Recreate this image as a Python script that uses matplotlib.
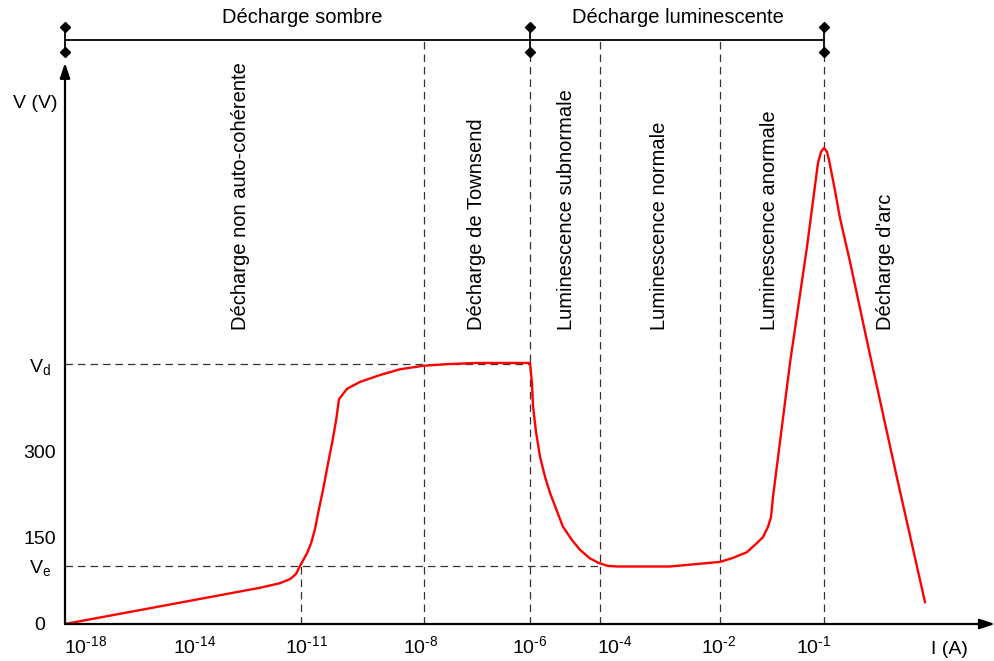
#importing external libraries
import numpy as np
import matplotlib.pyplot as plt

plt.rcParams['font.family'] = ['Liberation Sans', 'DejaVu Sans']
plt.rcParams['mathtext.fontset'] = 'custom'
plt.rcParams['mathtext.rm'] = 'Liberation Sans'
plt.rcParams['mathtext.it'] = 'Liberation Sans'

# schematic x position (arbitrary units along the log(I) axis) and voltage (V)
curve_x = [0, 195, 215, 225, 231, 235, 242, 246, 250, 253, 258, 263, 267, 271, 274, 282,
           295, 315, 335, 358, 382, 412, 448, 465, 467, 468, 471, 475, 480, 485, 492,
           498, 507, 515, 525, 534, 543, 552, 605, 655, 668, 682, 692, 698, 703, 706,
           708, 725, 742, 753, 756, 759, 762, 764, 769, 775, 785, 805, 832, 860]
curve_v = [0, 63, 71, 78, 87, 101, 123, 140, 165, 192, 233, 279, 314, 353, 391, 409,
           421, 433, 443, 449, 452, 454, 454, 454, 419, 379, 334, 291, 256, 228, 196,
           169, 146, 129, 114, 106, 101, 100, 100, 108, 115, 125, 141, 151, 169, 186,
           221, 454, 656, 802, 821, 828, 821, 807, 763, 706, 630, 468, 254, 38]

Ve = 101
Vd = 452

xtick_pos = [21, 130, 241, 356, 465, 550, 654, 749]
xtick_lab = ['-18', '-14', '-11', '-8', '-6', '-4', '-2', '-1']

ytick_pos = [0, Ve, 150, 300, Vd]
ytick_lab = ['0', r'$\mathregular{V_e}$', '150', '300', r'$\mathregular{V_d}$']

# region boundaries (dashed lines)
bounds = [359, 465, 535, 655, 759]
bound_top = [1016, 990, 1016, 1016, 990]
x_11 = 236

# rotated region names
regions = ['Décharge non auto-cohérente', 'Décharge de Townsend',
           'Luminescence subnormale', 'Luminescence normale',
           'Luminescence anormale', "Décharge d'arc"]
regions_x = [176, 412, 501, 595, 705, 821]

# top brackets
groups = ['Décharge sombre', 'Décharge luminescente']
groups_x = [237, 613]
bracket_x = [0, 465, 759]

fig = plt.figure(figsize=(9.95, 6.61), dpi=100)
ax = fig.add_axes([65/995, 37/661, 930/995, 624/661])
ax.set_xlim(0, 930)
ax.set_ylim(0, 624/0.575)
for s in ax.spines.values():
    s.set_visible(False)

# dashed guide lines
dash = dict(color='#333333', lw=0.9, ls=(0, (6, 4)), zorder=1)
ax.plot([0, 465], [Vd, Vd], **dash)
ax.plot([0, 535], [Ve, Ve], **dash)
ax.plot([x_11, x_11], [0, Ve], **dash)
for b, t in zip(bounds, bound_top):
    ax.plot([b, b], [0, t], **dash)

# the curve
ax.plot(curve_x, curve_v, color='red', lw=1.7, zorder=3, solid_joinstyle='round')

# axes arrows
arrow = dict(arrowstyle='-|>,head_length=0.9,head_width=0.3', color='black', lw=1.6,
             shrinkA=0, shrinkB=0)
ax.annotate('', xy=(930, 0), xytext=(0, 0), annotation_clip=False, arrowprops=arrow)
ax.annotate('', xy=(0, 976), xytext=(0, 0), annotation_clip=False, arrowprops=arrow)

# top bracket
ax.plot([0, 759], [1016, 1016], color='black', lw=1.3, clip_on=False)
for bx in bracket_x:
    ax.plot([bx, bx], [995, 1038], color='black', lw=1.3, clip_on=False)
    ax.plot([bx, bx], [995, 1038], ls='none', marker='D', ms=5, color='black', clip_on=False)
for g, gx in zip(groups, groups_x):
    ax.text(gx, 1054, g, ha='center', va='center', fontsize=14.5)

# region names
for r, rx in zip(regions, regions_x):
    ax.text(rx, 511, r, rotation=90, ha='center', va='bottom', fontsize=14.5)

# ticks
ax.set_xticks(xtick_pos)
ax.set_xticklabels([r'$\mathregular{10^{%s}}$' % l.replace('-', '\u2010') for l in xtick_lab],
                   fontsize=14)
ax.set_yticks(ytick_pos)
ax.set_yticklabels(ytick_lab, fontsize=14, ha='center')
ax.tick_params(axis='x', length=0, pad=8)
ax.tick_params(axis='y', length=0, pad=18)

ax.text(884, -44, 'I (A)', ha='center', va='center', fontsize=14)
ax.text(-30, 906, 'V (V)', ha='center', va='center', fontsize=14)

fig.savefig('out.png', dpi=100)
